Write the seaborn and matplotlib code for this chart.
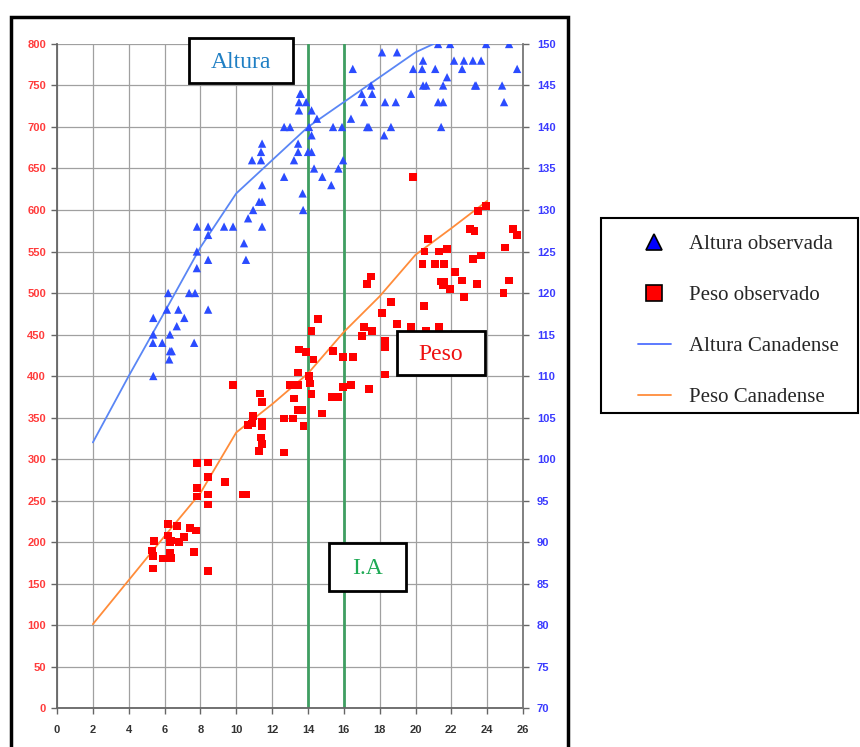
import matplotlib
matplotlib.use("Agg")
import matplotlib.pyplot as plt
from matplotlib.lines import Line2D
from matplotlib.patches import Rectangle
import seaborn as sns

# ----------------- DATA -----------------
# Canadian reference curves: age (years) -> weight (left axis) / height in cm (right axis)
ref_age_peso = [2, 4, 6, 8, 10, 12, 14, 16, 18, 20, 22, 24]
ref_peso = [101, 154, 207, 259, 332, 366, 403, 453, 496, 546, 578, 611]
ref_age_alt = [2, 4, 6, 8, 10, 12, 14, 16, 18, 20, 21]
ref_alt = [102, 110, 117.7, 125.5, 132, 136, 140, 143, 146, 149, 150]

# observed heights (cm)
alt_age = [7.81, 8.43, 8.43, 9.32, 9.82, 10.66, 10.94, 11.27, 11.44, 11.44, 11.44, 10.88, 11.38,
           11.38, 11.44, 10.43, 12.67, 13.0, 12.67, 13.22, 13.45, 13.45, 13.5, 13.5, 13.56,
           18.13, 18.97, 16.5, 17.0, 17.13, 17.52, 17.58, 16.4, 15.9, 15.4, 17.3, 17.4, 18.25,
           18.63, 18.3, 18.9, 19.75, 19.87, 20.37, 20.42, 21.1, 20.42, 20.6, 21.26, 21.54, 21.54,
           21.76, 21.43, 21.26, 21.93, 22.15, 22.7, 22.6, 23.2, 23.66, 23.32, 23.38, 23.94, 25.22,
           24.83, 24.94, 25.67, 13.6, 13.9, 14.2, 14.5, 14.06, 14.2, 14.0, 14.2, 14.34, 14.8,
           15.3, 15.7, 15.96, 13.7, 13.73, 7.8, 8.43, 10.54, 7.8, 6.2, 7.37, 7.7, 6.13, 6.77,
           8.43, 5.37, 7.1, 6.68, 5.37, 6.3, 5.35, 5.87, 7.65, 6.3, 6.4, 6.26, 5.37]
alt_cm = [128, 128, 127, 128, 128, 129, 130, 131, 131, 128, 133, 136, 136,
          137, 138, 126, 140, 140, 134, 136, 137, 138, 142, 143, 144,
          149, 149, 147, 144, 143, 145, 144, 141, 140, 140, 140, 140, 139,
          140, 143, 143, 144, 147, 147, 148, 147, 145, 145, 143, 143, 145,
          146, 140, 150, 150, 148, 148, 147, 148, 148, 145, 145, 150, 150,
          145, 143, 147, 144, 143, 142, 141, 140, 139, 137, 137, 135, 134,
          133, 135, 136, 132, 130, 125, 124, 124, 123, 120, 120, 120, 118, 118,
          118, 117, 117, 116, 115, 115, 114, 114, 114, 113, 113, 112, 110]

# observed weights
peso_age = [9.82, 11.33, 11.44, 10.94, 10.66, 10.88, 11.44, 11.44, 11.38, 11.44, 11.27, 12.67,
            13.17, 12.67, 13.0, 13.45, 13.45, 13.5, 13.22, 13.45, 7.81, 8.43, 8.43, 9.37, 7.81,
            7.81, 8.43, 10.38, 10.55, 8.43, 6.2, 6.68, 7.42, 7.75, 6.2, 6.36, 6.3, 6.8, 7.1,
            5.41, 5.3, 5.37, 5.9, 6.3, 6.36, 7.65, 5.37, 8.43, 19.87, 20.7, 23.05, 23.3, 23.5,
            23.94, 25.0, 25.45, 25.67, 20.5, 21.3, 21.76, 20.4, 21.1, 21.6, 23.2, 23.66, 22.2,
            22.6, 23.43, 25.22, 24.9, 22.7, 21.43, 21.6, 21.54, 21.93, 17.52, 17.3, 18.63, 18.13,
            20.48, 18.97, 19.75, 20.6, 21.3, 17.13, 17.0, 17.58, 18.3, 18.3, 18.3, 17.4, 14.56,
            14.2, 13.9, 14.3, 14.06, 14.1, 14.2, 13.7, 13.75, 14.8, 15.4, 15.35, 15.7, 15.96,
            15.96, 16.4, 16.5]
peso_val = [389, 379, 369, 352, 341, 343, 345, 339, 326, 318, 310, 349,
            349, 308, 389, 389, 404, 432, 373, 359, 295, 296, 278, 272, 265,
            255, 257, 257, 257, 245, 222, 219, 217, 214, 208, 202, 200, 200, 206,
            201, 190, 183, 180, 187, 181, 188, 168, 165, 640, 565, 577, 575, 599,
            605, 555, 577, 570, 550, 550, 553, 535, 535, 535, 541, 545, 525,
            515, 511, 515, 500, 495, 514, 514, 510, 505, 520, 511, 489, 476,
            484, 463, 459, 455, 459, 459, 448, 454, 442, 435, 402, 384, 469,
            454, 429, 420, 400, 391, 378, 359, 340, 355, 430, 375, 375, 423,
            387, 389, 423]

ia_ages = [14, 16]
legend_labels = ["Altura observada", "Peso observado", "Altura Canadense", "Peso Canadense"]
# -----------------------------------------------------------------

BLUE_PT = "#2b4cff"
RED_PT = "#ff0000"
BLUE_LN = "#5a86f5"
ORANGE_LN = "#ff8c3a"
GREEN = "#3f9e62"

sns.set_style("white")
plt.rcParams["font.family"] = ["Liberation Sans", "DejaVu Sans"]

fig = plt.figure(figsize=(8.6, 7.47), dpi=100)
ax = fig.add_axes([0.0663, 0.0522, 0.5419, 0.8889])
ax2 = ax.twinx()

ax.grid(True, color="#a0a0a0", lw=0.9)
ax.set_axisbelow(True)
for a in ia_ages:
    ax.axvline(a, color=GREEN, lw=2.0, zorder=2)

sns.lineplot(x=ref_age_peso, y=ref_peso, ax=ax, color=ORANGE_LN, lw=1.3, zorder=3)
sns.scatterplot(x=peso_age, y=peso_val, ax=ax, marker="s", color=RED_PT, s=30,
                edgecolor="none", zorder=4)
sns.lineplot(x=ref_age_alt, y=ref_alt, ax=ax2, color=BLUE_LN, lw=1.3, zorder=3)
sns.scatterplot(x=alt_age, y=alt_cm, ax=ax2, marker="^", color=BLUE_PT, s=36,
                edgecolor="none", zorder=4)

ax.set_xlim(0, 26)
ax.set_ylim(0, 800)
ax2.set_ylim(70, 150)
ax.set_xticks(range(0, 27, 2))
ax.set_yticks(range(0, 801, 50))
ax2.set_yticks(range(70, 151, 5))
for a in (ax, ax2):
    a.set_xlabel("")
    a.set_ylabel("")
    a.spines["top"].set_visible(False)
ax2.grid(False)
ax2.spines["left"].set_visible(False)
ax2.spines["bottom"].set_visible(False)
for sp in ("left", "bottom"):
    ax.spines[sp].set_color("#666666")
    ax.spines[sp].set_linewidth(1.3)
ax.spines["right"].set_visible(False)
ax2.spines["right"].set_color("#777777")
ax2.spines["right"].set_linewidth(1.3)

ax.tick_params(axis="y", labelcolor="#ff3b3b", color="#666666", labelsize=8,
               length=4, width=1, direction="out", left=True, pad=4)
ax.tick_params(axis="x", labelcolor="#333333", color="#666666", labelsize=8,
               length=4, width=1, direction="out", bottom=True, pad=8)
ax2.tick_params(axis="y", labelcolor="#3a3aff", color="#666666", labelsize=8,
                length=4, width=1, direction="out", right=True, pad=6)
for lab in ax.get_xticklabels() + ax.get_yticklabels() + ax2.get_yticklabels():
    lab.set_fontweight("bold")

# outer frame around the chart
fig.add_artist(Rectangle((0.0128, -0.01), 0.6477, 0.9872, transform=fig.transFigure,
                         fill=False, edgecolor="black", lw=2.5, zorder=5))

# labelled boxes
SERIF = ["Liberation Serif", "DejaVu Serif"]
boxes = [
    ((0.2198, 0.8889, 0.1209, 0.0602), (0.2802, 0.9157), "Altura", "#1f7fc4"),
    ((0.4616, 0.4980, 0.1023, 0.0589), (0.5128, 0.5248), "Peso", "#ee1111"),
    ((0.3826, 0.2088, 0.0895, 0.0643), (0.4273, 0.2383), "I.A", "#1faa55"),
]
for (x0, y0, w, h), (tx, ty), txt, col in boxes:
    fig.add_artist(Rectangle((x0, y0), w, h, transform=fig.transFigure,
                             facecolor="white", edgecolor="black", lw=2, zorder=6))
    fig.text(tx, ty, txt, ha="center", va="center", color=col, fontsize=17,
             family=SERIF, zorder=7)

# legend box
fig.add_artist(Rectangle((0.6988, 0.4470), 0.2988, 0.2612, transform=fig.transFigure,
                         fill=False, edgecolor="black", lw=1.5, zorder=5))
handles = [
    Line2D([], [], ls="", marker="^", markersize=12, markerfacecolor="#0000ff",
           markeredgecolor="black", markeredgewidth=1.2),
    Line2D([], [], ls="", marker="s", markersize=11, markerfacecolor="#ff0000",
           markeredgecolor="black", markeredgewidth=1.2),
    Line2D([], [], color="#4f6fff", lw=1.3),
    Line2D([], [], color=ORANGE_LN, lw=1.3),
]
leg = fig.legend(handles, legend_labels, loc="upper left",
                 bbox_to_anchor=(0.722, 0.708), frameon=False,
                 prop={"family": SERIF, "size": 15}, handlelength=1.6,
                 handletextpad=0.85, labelspacing=1.5, borderpad=0.3)

fig.savefig("out.png", dpi=100)
